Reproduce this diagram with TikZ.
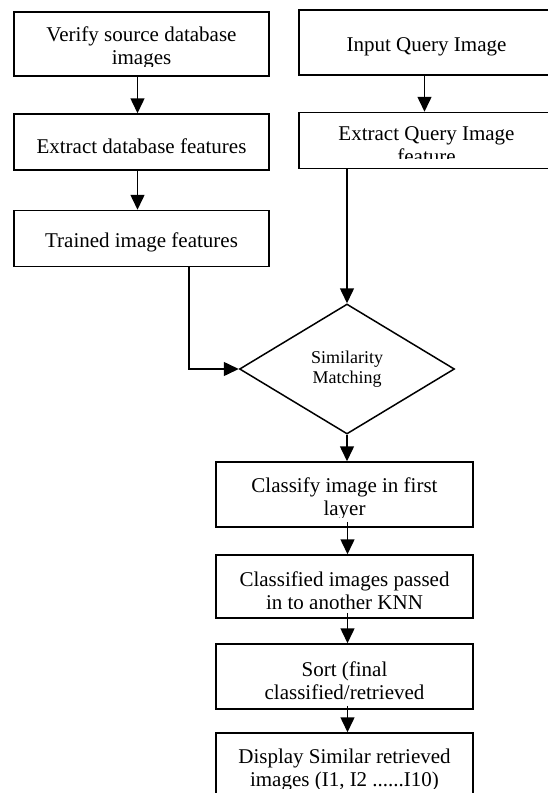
\documentclass[tikz,border=0pt]{standalone}
\usepackage{fontspec}
\setmainfont{Liberation Serif}
\usetikzlibrary{arrows.meta,shapes.geometric}

\tikzset{
  flow/.style={-{Triangle[length=15pt,width=14pt]}, line width=1.5pt},
  procbox/.style={draw, line width=1.5pt, minimum width=255pt, minimum height=#1, inner sep=0pt},
  procbox/.default=56pt,
  boxtext/.style={path picture={
    \clip ([yshift=10pt]path picture bounding box.south west) rectangle (path picture bounding box.north east);
    \node[anchor=north, align=center, inner sep=0pt, font=\fontsize{21}{23}\selectfont]
      at ([yshift=-3pt]path picture bounding box.north) {\rule{0pt}{16pt}#1};}},
}

\begin{document}
\begin{tikzpicture}[x=1pt, y=-1pt]
	\useasboundingbox (0,0) rectangle (548,793);
	% database side
	\node[procbox=64pt, boxtext={Verify source database\\images}] (verify) at (141.5,44) {};
	\node[procbox, boxtext={Extract database features}] (extdb) at (141.5,142) {};
	\node[procbox, boxtext={Trained image features}] (trained) at (141.5,238.5) {};
	% query side
	\node[procbox=65pt, boxtext={Input Query Image}] (query) at (426.5,42.5) {};
	\node[procbox, boxtext={Extract Query Image\\feature}] (extq) at (426.5,140.5) {};
	% matching
	\node[diamond, draw, line width=1.5pt, minimum width=215pt, minimum height=130pt, inner sep=0pt,
		align=center, font=\fontsize{18}{20.5}\selectfont] (match) at (347,369) {Similarity\\Matching};
	% classification chain
	\node[procbox=65pt, minimum width=257pt, boxtext={Classify image in first\\layer}] (classify) at (344.5,494.5) {};
	\node[procbox=63pt, minimum width=257pt, boxtext={Classified images passed\\in to another KNN}] (passed) at (344.5,586.5) {};
	\node[procbox=65pt, minimum width=257pt, boxtext={Sort (final\\classified/retrieved}] (sortres) at (344.5,676.5) {};
	\node[procbox=65pt, minimum width=257pt, boxtext={Display Similar retrieved\\images (I1, I2 ......I10)}] (display) at (344.5,765.5) {};

	\draw[flow] ([xshift=-4pt]verify.south) -- ([xshift=-4pt]extdb.north);
	\draw[flow] ([xshift=-4pt]extdb.south) -- ([xshift=-4pt]trained.north);
	\draw[flow] ([xshift=-2pt]query.south) -- ([xshift=-2pt]extq.north);
	\draw[flow] (extq.south -| match.north) -- (match.north);
	\draw[flow] ([xshift=47.5pt]trained.south) |- (match.west);
	\draw[flow] (match.south) -- (classify.north -| match.south);
	\draw[flow] ([xshift=3pt,yshift=6pt]classify.south) -- ([xshift=3pt]passed.north);
	\draw[flow] ([xshift=3pt,yshift=6pt]passed.south) -- ([xshift=3pt]sortres.north);
	\draw[flow] ([xshift=3pt,yshift=4pt]sortres.south) -- ([xshift=3pt]display.north);
\end{tikzpicture}
\end{document}
